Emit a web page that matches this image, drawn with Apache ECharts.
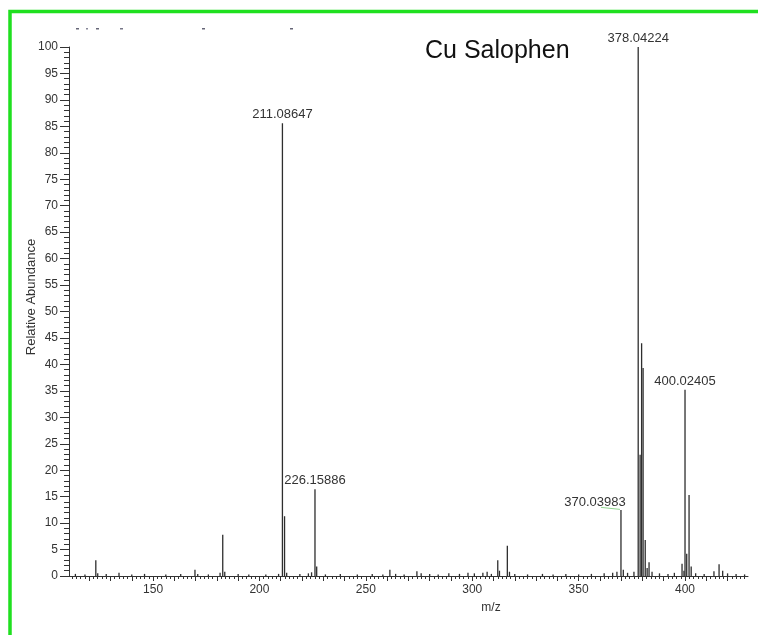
<!DOCTYPE html>
<html>
<head>
<meta charset="utf-8">
<script src="https://cdn.jsdelivr.net/npm/echarts@6/dist/echarts.min.js"></script>
<style>
html,body{margin:0;padding:0;background:#fff;}
#chart{width:758px;height:635px;}
</style>
</head>
<body>
<div id="chart"></div>
<script>
// ---- data ----
const peakMz = [113.5,118,123.1,124,128,134,140,146,156,163,169.7,171,176,181.5,182.75,183.7,190,195,203,209,
  210.8,211.8,212.8,219,223,224.5,226.1,226.9,231,238,246,253,258,261.3,264,268,274,276,280,284,289,294,298,301,305,307,309,
  312.0,312.8,316.5,317.5,320,326,333,338,344,350,356,362,366,368,369.9,371,373,376,
  378.0,378.9,379.6,380.3,381.3,382.2,383.1,384.5,388,392,395,398.6,399.5,400.0,400.8,401.9,402.9,405,409,413.6,416,417.7,420,424,428];
const peakInt = [0.4,0.3,3.0,0.5,0.4,0.6,0.3,0.4,0.3,0.4,1.2,0.4,0.3,0.6,7.8,0.8,0.4,0.3,0.3,0.4,
  85.6,11.3,0.6,0.4,0.5,0.7,16.4,1.8,0.3,0.4,0.3,0.4,0.3,1.2,0.4,0.3,0.9,0.5,0.4,0.3,0.5,0.4,0.6,0.5,0.6,0.8,0.4,
  3.0,1.0,5.7,0.8,0.4,0.3,0.4,0.3,0.4,0.3,0.4,0.5,0.6,0.8,12.5,1.2,0.6,0.8,
  100,22.9,44,39.3,6.8,1.5,2.6,0.8,0.5,0.4,0.6,2.3,1.0,35.2,4.2,15.3,1.8,0.5,0.4,0.9,2.2,1.0,0.5,0.4,0.3];
// annotated peaks: m/z position -> label text
const labelMz = [210.8, 226.1, 369.9, 378.0, 400.0];
const labelText = ['211.08647', '226.15886', '370.03983', '378.04224', '400.02405'];

const xTickLabels = [150,200,250,300,350,400];
const xMajorTicks = [120,130,140,150,160,170,180,190,200,210,220,230,240,250,260,270,280,290,300,310,320,330,340,350,360,370,380,390,400,410,420];
const xMinorTicks = [];
for (let v = 112; v <= 428; v += 2) xMinorTicks.push(v);
const title = 'Cu Salophen';
const xName = 'm/z';
const yName = 'Relative Abundance';

// ---- build chart ----
const FONT = '"Liberation Sans", Arial, sans-serif';
const shiftIdx = peakMz.indexOf(369.9);
const seriesData = peakMz.map((m, i) => {
  const li = labelMz.indexOf(m);
  const item = { value: [m, peakInt[i]] };
  if (li >= 0) {
    item.label = { show: true, formatter: labelText[li] };
  }
  return item;
});

const chart = echarts.init(document.getElementById('chart'), null, { renderer: 'canvas' });
const baseGraphic = [
  { type: 'rect', shape: { x: 10, y: 11.5, width: 800, height: 700 }, style: { fill: 'none', stroke: '#1fe01f', lineWidth: 3.5 }, silent: true },
  { type: 'text', x: 425, y: 51, style: { text: title, font: '25px ' + FONT, fill: '#111', textAlign: 'left', textVerticalAlign: 'middle' } },
  { type: 'text', x: 31, y: 297, rotation: Math.PI / 2, style: { text: yName, font: '13px ' + FONT, fill: '#333', textAlign: 'center', textVerticalAlign: 'middle' } },
  { type: 'text', x: 491, y: 608, style: { text: xName, font: '12px ' + FONT, fill: '#333', textAlign: 'center', textVerticalAlign: 'middle' } },
  { type: 'rect', shape: { x: 76, y: 28, width: 3, height: 1.5 }, style: { fill: '#667' } },
  { type: 'rect', shape: { x: 86, y: 28, width: 2, height: 1.5 }, style: { fill: '#889' } },
  { type: 'rect', shape: { x: 96, y: 28, width: 3, height: 1.5 }, style: { fill: '#667' } },
  { type: 'rect', shape: { x: 120, y: 28, width: 3, height: 1.5 }, style: { fill: '#778' } },
  { type: 'rect', shape: { x: 202, y: 28, width: 3, height: 1.5 }, style: { fill: '#667' } },
  { type: 'rect', shape: { x: 290, y: 28, width: 3, height: 1.5 }, style: { fill: '#667' } }
];
chart.setOption({
  backgroundColor: '#ffffff',
  animation: false,
  grid: { left: 69, right: 10, top: 47, bottom: 59, containLabel: false },
  xAxis: [{
    type: 'value', min: 110.5, max: 429.6,
    axisLine: { show: true, lineStyle: { color: '#333', width: 1 } },
    axisTick: { show: true, customValues: xMajorTicks, length: 5, lineStyle: { color: '#333' } },
    axisLabel: { show: true, customValues: xTickLabels, fontSize: 12, color: '#333', fontFamily: FONT, margin: 8 },
    splitLine: { show: false }
  }, {
    type: 'value', min: 110.5, max: 429.6, position: 'bottom',
    axisLine: { show: false },
    axisTick: { show: true, customValues: xMinorTicks, length: 3, lineStyle: { color: '#333' } },
    axisLabel: { show: false },
    splitLine: { show: false }
  }],
  yAxis: {
    type: 'value', min: 0, max: 100, interval: 5,
    axisLine: { show: true, lineStyle: { color: '#333', width: 1 } },
    axisTick: { show: true, length: 9, lineStyle: { color: '#333' } },
    minorTick: { show: true, splitNumber: 5, length: 5, lineStyle: { color: '#333' } },
    axisLabel: { fontSize: 12, color: '#333', fontFamily: FONT, margin: 11 },
    splitLine: { show: false }
  },
  series: [{
    type: 'bar',
    xAxisIndex: 0,
    data: seriesData,
    barWidth: 1.3,
    itemStyle: { color: '#2e2e2e' },
    label: { show: false, position: 'top', distance: 2, fontSize: 13, color: '#333', fontFamily: FONT },
    labelLayout: function (params) {
      if (params.dataIndex === shiftIdx) return { dx: -26, dy: 1 };
      return {};
    },
    emphasis: { disabled: true }
  }],
  graphic: baseGraphic
});

// green leader line from the shifted label to its peak, placed via the chart's own scales
const tip = chart.convertToPixel({ xAxisIndex: 0, yAxisIndex: 0 }, [peakMz[shiftIdx], peakInt[shiftIdx]]);
chart.setOption({
  graphic: baseGraphic.concat([{
    type: 'polyline',
    shape: { points: [[tip[0] - 20, tip[1] - 2.5], [tip[0] - 1, tip[1] - 0.5]] },
    style: { stroke: '#8fd68f', lineWidth: 1, fill: 'none' }
  }])
});
</script>
</body>
</html>
